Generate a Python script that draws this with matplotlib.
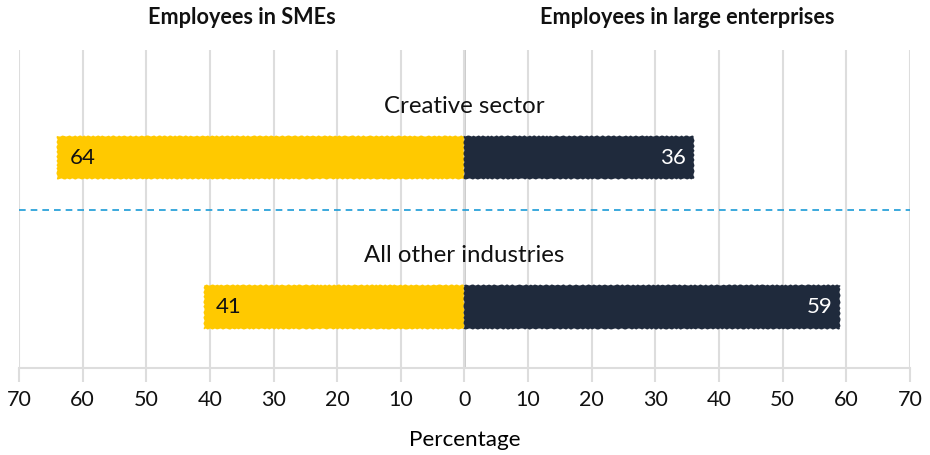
import matplotlib.pyplot as plt
import numpy as np

plt.rcParams.update(
    {
        "font.family": "Lato",
        "font.size": 15.5,
        "text.color": "#111111",
        "xtick.color": "#111111",
    }
)

# Share of employees by enterprise size (%)
sectors = ["All other industries", "Creative sector"]
sme_share = [41, 64]
large_share = [59, 36]
tick_values = np.arange(-70, 71, 10)
tick_labels = [str(abs(v)) for v in tick_values]

YELLOW = "#FFC900"
NAVY = "#1F2A3C"
GRID = "#DDDDDD"

fig = plt.figure(figsize=(9.3, 4.55), dpi=100)
ax = fig.add_axes([0.0204, 0.191, 0.958, 0.7])

ypos = np.arange(len(sectors))
height = 0.29

sme_bars = ax.barh(ypos, [-v for v in sme_share], height=height, color=YELLOW, zorder=3)
large_bars = ax.barh(ypos, large_share, height=height, color=NAVY, zorder=3)
# slightly rough, brush-like bar edges
for b in list(sme_bars) + list(large_bars):
    b.set_sketch_params(0.5, 6, 2)

for y, s, l in zip(ypos, sme_share, large_share):
    ax.text(-s + 2, y, str(s), ha="left", va="center", color="#111111", zorder=4, fontsize=16)
    ax.text(l - 1.2, y, str(l), ha="right", va="center", color="white", zorder=4, fontsize=16)

for y, name in zip(ypos, sectors):
    ax.text(0, y + 0.345, name, ha="center", va="center", fontsize=17.3)

# divider between the two groups
ax.axhline(0.65, color="#1A9BD7", lw=1.2, ls=(0, (4, 3)), zorder=2)

ax.set_xlim(-70, 70)
ax.set_ylim(-0.41, 1.725)
ax.set_xticks(tick_values)
ax.set_xticklabels(tick_labels)
ax.set_yticks([])
ax.tick_params(axis="x", length=10, width=1.5, color=GRID, pad=6)
ax.grid(axis="x", color=GRID, lw=1.5, zorder=0)
ax.axvline(0, color="#C8C8C8", lw=2, zorder=1)
for side in ["top", "right", "left"]:
    ax.spines[side].set_visible(False)
ax.spines["bottom"].set_color(GRID)
ax.spines["bottom"].set_linewidth(1.5)
ax.set_xlabel("Percentage", labelpad=14, fontsize=16.2)

xt = ax.get_xaxis_transform()
ax.text(-35, 1.1, "Employees in SMEs", transform=xt,
        ha="center", va="center", fontsize=15.6, fontweight="bold")
ax.text(35, 1.1, "Employees in large enterprises", transform=xt,
        ha="center", va="center", fontsize=15.6, fontweight="bold")

fig.savefig("out.png", dpi=100)
